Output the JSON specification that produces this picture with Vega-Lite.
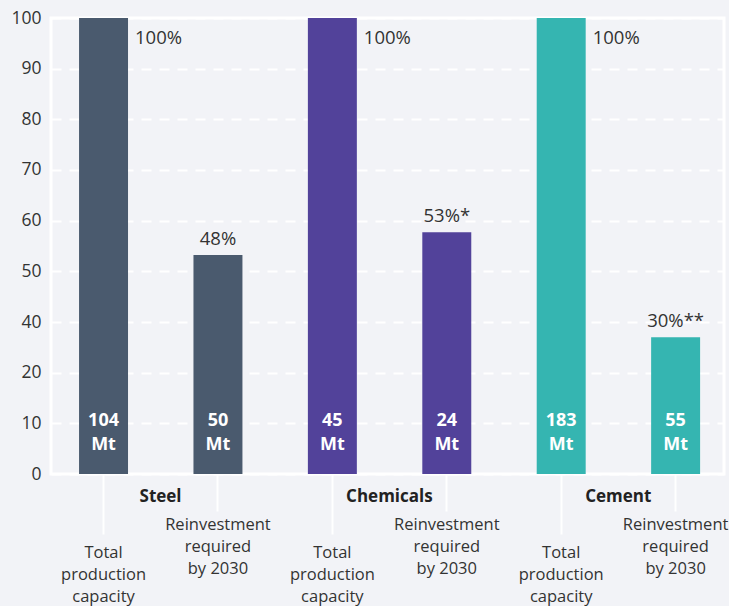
{
  "$schema": "https://vega.github.io/schema/vega-lite/v6.json",
  "width": 673,
  "height": 456,
  "autosize": {"type": "none"},
  "padding": {"left": 51, "top": 18, "right": 5, "bottom": 132},
  "background": "#f2f3f7",
  "config": {
    "view": {"stroke": "#ffffff", "strokeWidth": 3},
    "font": "Open Sans",
    "text": {"font": "Open Sans"}
  },
  "data": {
    "values": [
      {"cat": "Steel|Total", "group": "Steel", "type": "Total", "value": 100, "pct": "100%", "mt": "104", "unit": "Mt"},
      {"cat": "Steel|Reinvest", "group": "Steel", "type": "Reinvest", "value": 48, "pct": "48%", "mt": "50", "unit": "Mt"},
      {"cat": "Chemicals|Total", "group": "Chemicals", "type": "Total", "value": 100, "pct": "100%", "mt": "45", "unit": "Mt"},
      {"cat": "Chemicals|Reinvest", "group": "Chemicals", "type": "Reinvest", "value": 53, "pct": "53%*", "mt": "24", "unit": "Mt"},
      {"cat": "Cement|Total", "group": "Cement", "type": "Total", "value": 100, "pct": "100%", "mt": "183", "unit": "Mt"},
      {"cat": "Cement|Reinvest", "group": "Cement", "type": "Reinvest", "value": 30, "pct": "30%**", "mt": "55", "unit": "Mt"}
    ]
  },
  "encoding": {
    "x": {
      "field": "cat",
      "type": "nominal",
      "sort": null,
      "scale": {"paddingInner": 0.572, "paddingOuter": 0.227, "align": 0.54},
      "axis": {
        "orient": "bottom",
        "title": null,
        "domain": false,
        "labelAngle": 0,
        "labelExpr": "indexof(datum.value,'Total')>=0 ? ['Total','production','capacity'] : ['Reinvestment','required','by 2030']",
        "labelFont": "Open Sans",
        "labelFontSize": 16.5,
        "labelColor": "#333333",
        "labelLineHeight": 22,
        "labelBaseline": "top",
        "tickColor": "#ffffff",
        "tickWidth": 2,
        "tickSize": {"condition": {"test": "indexof(datum.value,'Total')>=0", "value": 60}, "value": 37},
        "labelPadding": {"condition": {"test": "indexof(datum.value,'Total')>=0", "value": 10}, "value": 5}
      }
    }
  },
  "layer": [
    {
      "mark": {"type": "bar"},
      "encoding": {
        "y": {
          "field": "value",
          "type": "quantitative",
          "scale": {"domain": [0, 100], "nice": false},
          "axis": {
            "title": null,
            "domain": false,
            "ticks": false,
            "values": [0, 11.1111, 22.2222, 33.3333, 44.4444, 55.5556, 66.6667, 77.7778, 88.8889, 100],
            "labelExpr": "[0,10,20,40,50,60,70,80,90,100][round(datum.value*9/100)]",
            "labelFont": "Open Sans",
            "labelFontSize": 17.5,
            "labelColor": "#333333",
            "labelPadding": 10,
            "grid": true,
            "gridColor": "#ffffff",
            "gridWidth": 2,
            "gridDash": [10, 8]
          }
        },
        "color": {
          "field": "group",
          "type": "nominal",
          "scale": {"domain": ["Steel", "Chemicals", "Cement"], "range": ["#4a5a6e", "#52429a", "#35b5b1"]},
          "legend": null
        }
      }
    },
    {
      "transform": [{"filter": "datum.type == 'Total'"}],
      "mark": {"type": "text", "align": "left", "baseline": "top", "dx": 7, "dy": 11, "fontSize": 18.5, "color": "#333333"},
      "encoding": {
        "x": {"field": "cat", "type": "nominal", "sort": null, "bandPosition": 1},
        "y": {"field": "value", "type": "quantitative"},
        "text": {"field": "pct"}
      }
    },
    {
      "transform": [{"filter": "datum.type == 'Reinvest'"}],
      "mark": {"type": "text", "align": "center", "baseline": "alphabetic", "dy": -10, "fontSize": 18.5, "color": "#333333"},
      "encoding": {
        "y": {"field": "value", "type": "quantitative"},
        "text": {"field": "pct"}
      }
    },
    {
      "mark": {"type": "text", "align": "center", "baseline": "middle", "dy": -53, "fontSize": 18, "fontWeight": "bold", "color": "#ffffff"},
      "encoding": {
        "y": {"datum": 0, "type": "quantitative"},
        "text": {"field": "mt"}
      }
    },
    {
      "mark": {"type": "text", "align": "center", "baseline": "middle", "dy": -29, "fontSize": 18, "fontWeight": "bold", "color": "#ffffff"},
      "encoding": {
        "y": {"datum": 0, "type": "quantitative"},
        "text": {"field": "unit"}
      }
    },
    {
      "transform": [{"filter": "datum.type == 'Total'"}],
      "mark": {"type": "text", "align": "center", "baseline": "middle", "dx": 57, "dy": 23, "fontSize": 17, "fontWeight": "bold", "color": "#222222"},
      "encoding": {
        "y": {"datum": 0, "type": "quantitative"},
        "text": {"field": "group"}
      }
    }
  ]
}
